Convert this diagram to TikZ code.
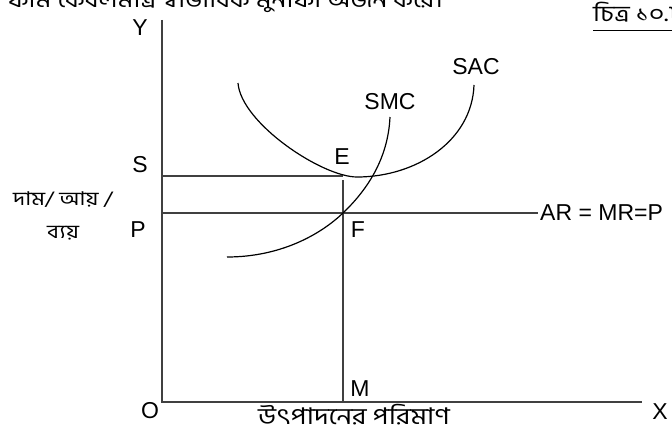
\documentclass[tikz,border=0pt]{standalone}
\usepackage{fontspec}
\setmainfont{Liberation Sans}
\newfontfamily\bnfont[Script=Bengali, FakeStretch=1.2]{Hind Siliguri}
\usetikzlibrary{positioning}
\definecolor{axisgray}{HTML}{404040}

\tikzset{
  lbl/.style={font=\fontsize{23}{25}\selectfont, inner sep=0pt},
  bnlbl/.style={font=\bnfont\fontsize{22}{30}\selectfont, inner sep=0pt, align=center},
  bnsmall/.style={font=\bnfont\fontsize{19}{33}\selectfont, inner sep=0pt, align=center},
  axisline/.style={draw=axisgray, line width=1.4pt},
  curveline/.style={draw=black, line width=1.2pt},
}

\begin{document}
\begin{tikzpicture}[x=1pt, y=-1pt]
\clip (0,0) rectangle (672,436);
\fill[white] (0,0) rectangle (672,436);
% heading lines, cut by the page edge
\node[bnlbl, anchor=base east] (headtxt) at (443,8) {ফার্ম কেবলমাত্র স্বাভাবিক মুনাফা অর্জন করে।};
\node[bnlbl, anchor=base west] (figno) at (593,22) {চিত্র ১০.৮};
\draw[black, line width=1pt] ([yshift=-8.5pt]figno.base west) -- ([yshift=-8.5pt]figno.base east);
% axes
\coordinate (orig) at (162,402);
\coordinate (ytop) at (162,20);
\coordinate (xend) at (642,402);
\draw[axisline] (ytop) -- (orig) -- (xend);
\node[lbl] (ylab) at (140,28) {Y};
\node[lbl] (xlab) at (660,412) {X};
\node[lbl] (olab) at (150,411) {O};
% price levels
\coordinate (sy) at (162,176);
\coordinate (sx) at (343,176);
\coordinate (py) at (162,213);
\coordinate (pend) at (538,213);
\coordinate (mtop) at (343,180);
\coordinate (mx) at (343,402);
\draw[axisline] (sy) -- (sx);
\draw[axisline] (py) -- (pend);
\draw[axisline] (mtop) -- (mx);
\node[lbl] (slab) at (140,165) {S};
\node[lbl] (plab) at (138,230) {P};
\node[lbl, anchor=west] (arlab) at (540,213) {AR = MR=P};
\node[lbl] (elab) at (342,157) {E};
\node[lbl] (flab) at (358,230) {F};
\node[lbl] (mlab) at (360,389) {M};
% cost curves
\draw[curveline] (238,83) .. controls (241,123) and (322,177) .. (357,177)
  .. controls (416,177) and (472,141) .. (474,85);
\draw[curveline] (227,257) .. controls (280,257) and (320,235) .. (343,213)
  .. controls (366,191) and (388,160) .. (390,117);
\node[lbl] (saclab) at (476,67) {SAC};
\node[lbl] (smclab) at (390,102) {SMC};
% axis titles
\node[bnsmall, anchor=base] (ytitle) at (63,238) {দাম/ আয় /\\ব্যয়};
\node[bnlbl, font=\bnfont\fontsize{23}{30}\selectfont, anchor=base] (xtitle) at (354,424) {উৎপাদনের পরিমাণ};
\end{tikzpicture}
\end{document}
